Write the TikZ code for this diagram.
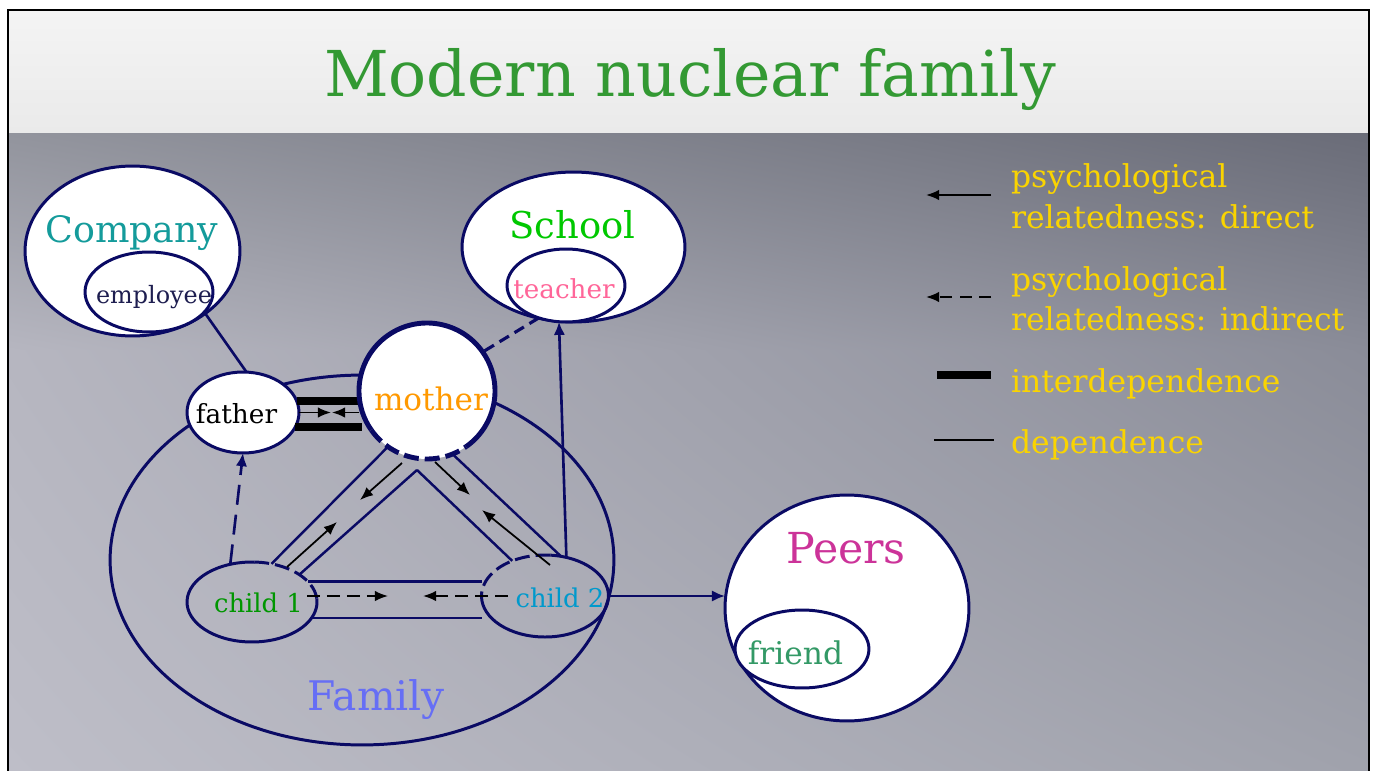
\documentclass[tikz,border=0pt]{standalone}
\usepackage{fontspec}
\setmainfont{DejaVu Serif}
\usetikzlibrary{shapes.geometric,arrows.meta,shadings}
\definecolor{navy}{RGB}{10,10,100}
\definecolor{titlegreen}{RGB}{51,153,51}
\definecolor{companyc}{RGB}{20,155,155}
\definecolor{employeec}{RGB}{30,30,80}
\definecolor{motherc}{RGB}{255,153,0}
\definecolor{schoolc}{RGB}{0,200,0}
\definecolor{teacherc}{RGB}{255,102,153}
\definecolor{childa}{RGB}{0,150,0}
\definecolor{childb}{RGB}{0,153,204}
\definecolor{peersc}{RGB}{204,51,153}
\definecolor{friendc}{RGB}{51,153,102}
\definecolor{familyc}{RGB}{102,110,245}
\definecolor{legendc}{RGB}{250,212,0}
\definecolor{bgA}{RGB}{146,148,157}
\definecolor{bgB}{RGB}{106,108,120}
\definecolor{bgC}{RGB}{182,182,192}
\definecolor{bgD}{RGB}{138,140,152}
\definecolor{bgE}{RGB}{190,190,200}
\definecolor{bgF}{RGB}{160,162,172}
\definecolor{bandtop}{RGB}{244,244,244}
\definecolor{bandbot}{RGB}{234,234,234}
\newcommand\myfsz[1]{\fontsize{#1}{#1}\selectfont}
\begin{document}
\begin{tikzpicture}[x=0.02cm,y=-0.02cm,
  ell/.style n args={2}{ellipse, minimum width=#1*0.04cm, minimum height=#2*0.04cm, inner sep=0pt, outer sep=0pt},
  bord/.style={draw=navy, line width=1.7pt},
  lbl/.style={anchor=base, inner sep=0pt, outer sep=0pt},
  legtxt/.style={anchor=base west, inner sep=0pt, outer sep=0pt, text=legendc, font=\myfsz{17.9}},
  dbl/.style={draw=navy, line width=1.4pt},
  link/.style={draw=navy, line width=1.5pt},
  navyarrow/.style={-{Latex[length=7.5pt,width=6.5pt]}},
  blackarrow/.style={draw=black, line width=1pt, -{Latex[length=7.5pt,width=6pt]}},
  borderdash/.style={dash pattern=on 0.3cm off 0.12cm},
]
\useasboundingbox (0,0) rectangle (1377,771);
\fill[white] (0,0) rectangle (1377,771);
% backgrounds
\shade[top color=bandtop, bottom color=bandbot] (9,10) rectangle (1369,133);
\shade[upper left=bgA, upper right=bgB, lower left=bgC, lower right=bgD] (9,133) rectangle (1369,350);
\shade[upper left=bgC, upper right=bgD, lower left=bgE, lower right=bgF] (9,350) rectangle (1369,771);
\draw[black, line width=1.2pt] (8,775) -- (8,10) -- (1369,10) -- (1369,775);

% title
\node[lbl, font=\myfsz{36}, text=titlegreen] (title) at (690,96) {Modern nuclear family};

% family
\node[ell={252}{185}, bord] (family) at (362,560) {};
\node[lbl, font=\myfsz{23.2}, text=familyc] (familyl) at (376,710) {Family};

% company
\node[ell={107.5}{85}, bord, fill=white] (company) at (132.5,251) {};
\node[ell={64}{40}, bord, fill=white] (employee) at (149,292) {};
\node[lbl, font=\myfsz{20.7}, text=companyc] (companyl) at (132,242) {Company};
\node[lbl, font=\myfsz{13.6}, text=employeec] (employeel) at (154,303) {employee};

% school
\node[ell={111.5}{75}, bord, fill=white] (school) at (573.5,247) {};
\node[ell={59}{36.5}, bord, fill=white] (teacher) at (566,285.5) {};
\node[lbl, font=\myfsz{21}, text=schoolc] (schooll) at (572.5,238) {School};
\node[lbl, font=\myfsz{14.9}, text=teacherc] (teacherl) at (564,298) {teacher};

% peers
\node[ell={122}{113}, bord, fill=white] (peers) at (847,608) {};
\node[ell={67}{39}, bord, fill=white] (friend) at (802,649) {};
\node[lbl, font=\myfsz{24.3}, text=peersc] (peersl) at (846,563) {Peers};
\node[lbl, font=\myfsz{17.8}, text=friendc] (friendl) at (795.5,664) {friend};

% children
\node[ell={65}{40}] (child1) at (252,602) {};
\node[ell={63.5}{41}] (child2) at (545,596) {};
\draw[bord] (child1.center) ++(-88:65 and 40) arc[start angle=-88, end angle=-365, x radius=65, y radius=40];
\draw[bord, borderdash] (child1.center) ++(-5:65 and 40) arc[start angle=-5, end angle=-88, x radius=65, y radius=40];
\draw[bord] (child2.center) ++(-180:63.5 and 41) arc[start angle=-180, end angle=-445, x radius=63.5, y radius=41];
\draw[bord, borderdash] (child2.center) ++(-85:63.5 and 41) arc[start angle=-85, end angle=-180, x radius=63.5, y radius=41];
\node[lbl, font=\myfsz{14.7}, text=childa] (child1l) at (258.5,612) {child 1};
\node[lbl, font=\myfsz{14.7}, text=childb] (child2l) at (560,607) {child 2};

% father and mother
\node[ell={56}{40.5}, bord, fill=white] (father) at (243,412.5) {};
\node[circle, minimum size=136*0.02cm, inner sep=0pt, outer sep=0pt, fill=white] (mother) at (427,391) {};
\node[lbl, font=\myfsz{15}, text=black] (fatherl) at (236.5,423) {father};
\node[lbl, font=\myfsz{17.7}, text=motherc] (motherl) at (431,410) {mother};

% interdependence bars father-mother
\draw[black, line width=4.5pt] (father.12) -- ([xshift=0.06cm]father.12 -| mother.west);
\draw[black, line width=4.5pt] (father.-15) -- ([xshift=0.06cm]father.-15 -| mother.west);
\draw[navy, line width=2.8pt] (mother.center) ++(-305:68) arc[start angle=-305, end angle=-575, radius=68];
\draw[navy, line width=2.8pt, borderdash] (mother.center) ++(-215:68) arc[start angle=-215, end angle=-305, radius=68];
\draw[blackarrow] (father.east) -- ++(32,0);
\draw[blackarrow] (mother.west |- father.east) -- ++(-27,0);

% connectors
\draw[link] (employee.340) -- (father.85);
\draw[link, line width=1.8pt, dash pattern=on 0.22cm off 0.13cm] (teacher.230) -- (mother.35);
\draw[link, navyarrow] (child2.61) -- (teacher.259);
\draw[link, navyarrow, dash pattern=on 0.4cm off 0.2cm] (child1.120) -- (father.south);
\draw[link, navyarrow] (child2.east) -- (child2.east -| peers.west);

% triangle double lines
\coordinate (apex) at (417,470);
\draw[dbl] (mother.235) -- (child1.63);
\draw[dbl] (apex) -- (child1.30);
\draw[dbl] (apex) -- (child2.133);
\draw[dbl] (mother.292) -- (child2.68);
\draw[dbl] (child1.20) -- (child1.20 -| child2.west);
\draw[dbl] (child1.345) -- (child1.345 -| child2.west);

% relatedness arrows in the triangle
\coordinate (mA) at (402,463); \coordinate (cA) at (360,500);
\coordinate (cB) at (287,567); \coordinate (mB) at (337,522);
\coordinate (mC) at (435,462); \coordinate (cC) at (470,495);
\coordinate (cD) at (550,565); \coordinate (mD) at (482,510);
\coordinate (cE) at (307,596); \coordinate (cE2) at (388,596);
\coordinate (cF) at (508,596); \coordinate (cF2) at (423,596);
\draw[blackarrow] (mA) -- (cA);
\draw[blackarrow] (cB) -- (mB);
\draw[blackarrow] (mC) -- (cC);
\draw[blackarrow] (cD) -- (mD);
\draw[blackarrow, dash pattern=on 0.26cm off 0.14cm] (cE) -- (cE2);
\draw[blackarrow, dash pattern=on 0.26cm off 0.14cm] (cF) -- (cF2);

% legend
\coordinate (lgA1) at (991,195); \coordinate (lgA2) at (926,195);
\coordinate (lgB1) at (991,297); \coordinate (lgB2) at (926,297);
\coordinate (lgC1) at (937,375); \coordinate (lgC2) at (991,375);
\coordinate (lgD1) at (934,440); \coordinate (lgD2) at (994,440);
\draw[blackarrow, line width=1.1pt] (lgA1) -- (lgA2);
\draw[blackarrow, line width=1.1pt, dash pattern=on 0.24cm off 0.15cm] (lgB1) -- (lgB2);
\draw[black, line width=4.5pt] (lgC1) -- (lgC2);
\draw[black, line width=1.1pt] (lgD1) -- (lgD2);
\node[legtxt] (lt1) at (1011,187) {psychological};
\node[legtxt] (lt2) at (1011,228) {relatedness: direct};
\node[legtxt] (lt3) at (1011,290) {psychological};
\node[legtxt] (lt4) at (1011,330) {relatedness: indirect};
\node[legtxt] (lt5) at (1011,392) {interdependence};
\node[legtxt] (lt6) at (1011,453) {dependence};
\end{tikzpicture}
\end{document}
